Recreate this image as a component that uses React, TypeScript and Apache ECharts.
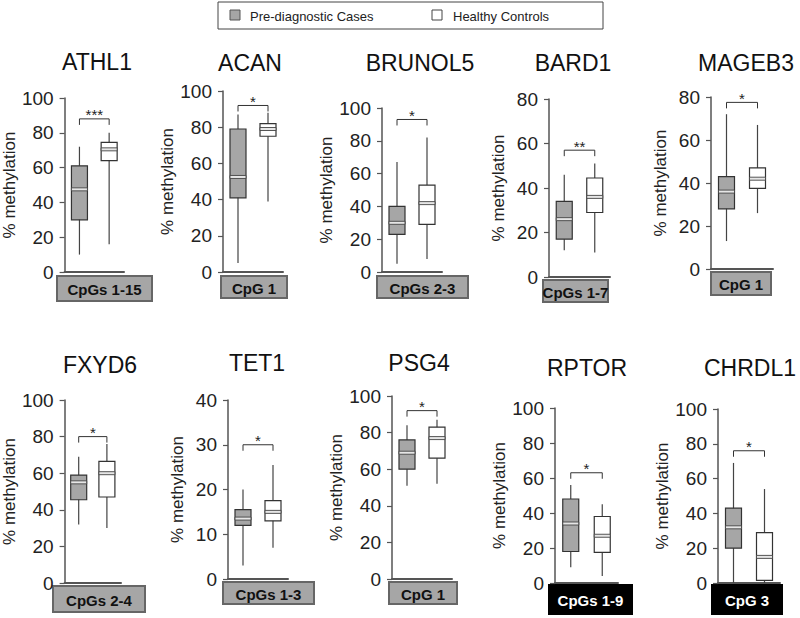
import React, { useEffect, useRef } from "react";
import * as echarts from "echarts";

const genes = ["ATHL1", "ACAN", "BRUNOL5", "BARD1", "MAGEB3", "FXYD6", "TET1", "PSG4", "RPTOR", "CHRDL1"];
const cpgLabels = ["CpGs 1-15", "CpG 1", "CpGs 2-3", "CpGs 1-7", "CpG 1", "CpGs 2-4", "CpGs 1-3", "CpG 1", "CpGs 1-9", "CpG 3"];
const darkLabel = [false, false, false, false, false, false, false, false, true, true];
const yMax = [100, 100, 100, 80, 80, 100, 40, 100, 100, 100];
const yStep = [20, 20, 20, 20, 20, 20, 10, 20, 20, 20];
const groups = ["Pre-diagnostic Cases", "Healthy Controls"];
// [min, Q1, median, Q3, max]
const caseStats = [
  [10, 30, 47.5, 61, 72],
  [5, 41, 52.5, 79, 87],
  [5, 23, 30, 40, 67],
  [12, 17, 26, 34, 46],
  [13, 28, 36, 43, 72],
  [32, 45.5, 55, 59, 69],
  [3, 12, 13.5, 15.5, 20],
  [51, 60, 69, 76, 84],
  [9, 18, 34, 48, 56],
  [0, 20, 32, 43, 69],
];
const controlStats = [
  [16, 64, 70.5, 74.5, 80],
  [39, 75, 79, 82, 88],
  [8, 29, 42, 53, 82],
  [11, 29, 36, 44.5, 51],
  [26, 37.5, 42, 47, 67],
  [30, 47, 60, 66.5, 76],
  [7, 13, 15, 17.5, 25.5],
  [52, 66, 77, 83, 87],
  [4, 17.5, 27, 38, 45],
  [0, 1.5, 15, 29, 54],
];
const sigStars = ["***", "*", "*", "**", "*", "*", "*", "*", "*", "*"];
const bracketAt = [88, 92, 93, 57, 77.5, 80, 30, 92, 63, 76];

// layout: axis x, top (max) y, bottom (0) y, width, title center x, title y, label box [x, y, w, h]
const layout = [
  { ax: 62, top: 98, bot: 272, w: 62, tx: 97, ty: 62, box: [57, 276, 95, 25] },
  { ax: 223, top: 91, bot: 272, w: 60, tx: 250, ty: 63, box: [221, 276, 66, 22] },
  { ax: 382, top: 108, bot: 272, w: 60, tx: 420, ty: 63, box: [377, 276, 91, 22] },
  { ax: 549, top: 99, bot: 277, w: 61, tx: 573, ty: 63, box: [543, 280, 65, 22] },
  { ax: 711, top: 97, bot: 269, w: 62, tx: 746, ty: 63, box: [711, 272, 60, 23] },
  { ax: 59, top: 400, bot: 583, w: 62, tx: 100, ty: 365, box: [53, 586, 92, 26] },
  { ax: 228, top: 400, bot: 579, w: 60, tx: 257, ty: 363, box: [223, 582, 91, 22] },
  { ax: 392, top: 396, bot: 579, w: 60, tx: 419, ty: 363, box: [389, 582, 68, 22] },
  { ax: 555, top: 408, bot: 583, w: 63, tx: 587, ty: 368, box: [549, 585, 83, 29] },
  { ax: 718, top: 409, bot: 583, w: 62, tx: 750, ty: 368, box: [712, 585, 70, 29] },
];

const FONT = "Liberation Sans";
const AXIS_COLOR = "#555";
const CASE_FILL = "#a6a6a6";

function boxRender(params: any, api: any) {
  const x = api.value(0);
  const lo = api.coord([x, api.value(1)]);
  const q1 = api.coord([x, api.value(2)]);
  const med = api.coord([x, api.value(3)]);
  const q3 = api.coord([x, api.value(4)]);
  const hi = api.coord([x, api.value(5)]);
  const cx = lo[0];
  const half = 8;
  const fill = x === 0 ? CASE_FILL : "#ffffff";
  return {
    type: "group",
    children: [
      { type: "line", shape: { x1: cx, y1: hi[1], x2: cx, y2: lo[1] }, style: { stroke: "#444", lineWidth: 1.2 } },
      {
        type: "rect",
        shape: { x: cx - half, y: q3[1], width: half * 2, height: q1[1] - q3[1] },
        style: { fill, stroke: "#333", lineWidth: 1.2 },
      },
      {
        type: "rect",
        shape: { x: cx - half, y: med[1] - 1.5, width: half * 2, height: 3 },
        style: { fill: "#e6e6e6", stroke: "#444", lineWidth: 0.9 },
      },
    ],
  };
}

export default function App() {
  const ref = useRef<HTMLDivElement>(null);
  useEffect(() => {
    if (!ref.current) return;
    const chart = echarts.init(ref.current, undefined, { renderer: "svg" });
    const grid: any[] = [];
    const xAxis: any[] = [];
    const yAxis: any[] = [];
    const series: any[] = [];
    const graphic: any[] = [];
    genes.forEach((g, i) => {
      const L = layout[i];
      grid.push({ left: L.ax, top: L.top, width: L.w, height: L.bot - L.top });
      xAxis.push({
        gridIndex: i,
        type: "category",
        data: groups,
        boundaryGap: true,
        axisLine: { lineStyle: { color: AXIS_COLOR, width: 2 } },
        axisTick: { show: false },
        axisLabel: { show: false },
      });
      yAxis.push({
        gridIndex: i,
        type: "value",
        min: 0,
        max: yMax[i],
        interval: yStep[i],
        name: "% methylation",
        nameLocation: "middle",
        nameGap: 42,
        nameTextStyle: { fontFamily: FONT, fontSize: 17, color: "#222" },
        axisLine: { show: true, lineStyle: { color: AXIS_COLOR, width: 1.5 } },
        axisTick: { show: true, length: 5, lineStyle: { color: AXIS_COLOR, width: 1.2 } },
        axisLabel: { fontFamily: FONT, fontSize: 19, color: "#222", margin: 11 },
        splitLine: { show: false },
      });
      series.push({
        type: "custom",
        xAxisIndex: i,
        yAxisIndex: i,
        renderItem: boxRender,
        encode: { x: 0, y: [1, 2, 3, 4, 5] },
        data: [
          [0, ...caseStats[i]],
          [1, ...controlStats[i]],
        ],
        z: 3,
      });
      series.push({
        type: "custom",
        xAxisIndex: i,
        yAxisIndex: i,
        renderItem: (p: any, api: any) => {
          const lvl = api.value(1);
          const p0 = api.coord([0, lvl]);
          const p1 = api.coord([1, lvl]);
          return {
            type: "group",
            children: [
              {
                type: "polyline",
                shape: { points: [[p0[0], p0[1] + 6], [p0[0], p0[1]], [p1[0], p1[1]], [p1[0], p1[1] + 6]] },
                style: { stroke: "#333", lineWidth: 1, fill: "none" },
              },
              {
                type: "text",
                x: (p0[0] + p1[0]) / 2,
                y: p0[1] - 4,
                style: { text: sigStars[i], align: "center", verticalAlign: "middle", fontSize: 15, fontFamily: FONT, fill: "#222" },
              },
            ],
          };
        },
        encode: { x: 0, y: 1 },
        data: [[0, bracketAt[i]]],
        z: 4,
      });
      graphic.push({
        type: "text",
        x: L.tx,
        y: L.ty,
        style: { text: g, align: "center", verticalAlign: "middle", fontFamily: FONT, fontSize: 23, fill: "#111" },
      });
      const [bx, by, bw, bh] = L.box;
      graphic.push({
        type: "rect",
        shape: { x: bx, y: by, width: bw, height: bh },
        style: { fill: darkLabel[i] ? "#000" : CASE_FILL, stroke: darkLabel[i] ? "#000" : "#666", lineWidth: 2 },
      });
      graphic.push({
        type: "text",
        x: bx + bw / 2,
        y: by + bh / 2 + 1,
        style: {
          text: cpgLabels[i],
          align: "center",
          verticalAlign: "middle",
          fontFamily: FONT,
          fontWeight: "bold",
          fontSize: 15,
          fill: darkLabel[i] ? "#fff" : "#111",
        },
      });
    });
    // legend
    graphic.push({ type: "rect", shape: { x: 218, y: 2, width: 385, height: 27 }, style: { fill: "#fff", stroke: "#444", lineWidth: 1 } });
    graphic.push({ type: "rect", shape: { x: 230, y: 10, width: 10, height: 10 }, style: { fill: CASE_FILL, stroke: "#555", lineWidth: 1 } });
    graphic.push({ type: "text", x: 250, y: 16, style: { text: groups[0], align: "left", verticalAlign: "middle", fontFamily: FONT, fontSize: 13, fill: "#222" } });
    graphic.push({ type: "rect", shape: { x: 432, y: 10, width: 10, height: 10 }, style: { fill: "#fff", stroke: "#444", lineWidth: 1 } });
    graphic.push({ type: "text", x: 453, y: 16, style: { text: groups[1], align: "left", verticalAlign: "middle", fontFamily: FONT, fontSize: 13, fill: "#222" } });

    chart.setOption({
      animation: false,
      backgroundColor: "#fff",
      grid,
      xAxis,
      yAxis,
      series,
      graphic,
    });
    return () => chart.dispose();
  }, []);
  return <div ref={ref} style={{ position: "fixed", left: 0, top: 0, width: 800, height: 618 }} />;
}
